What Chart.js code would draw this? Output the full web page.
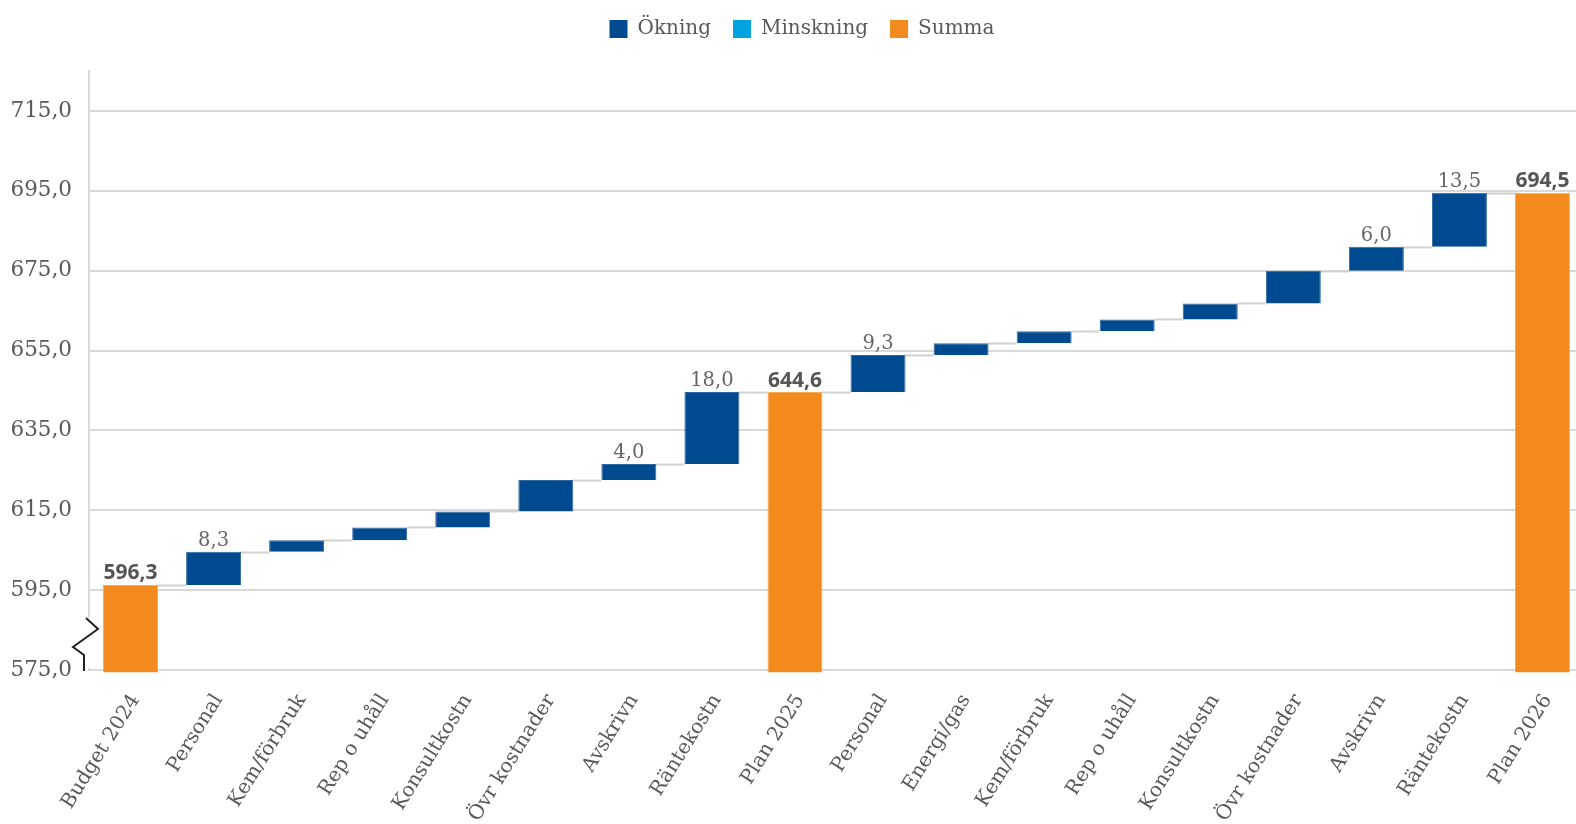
<!DOCTYPE html>
<html>
<head>
<meta charset="utf-8">
<script src="https://cdn.jsdelivr.net/npm/chart.js@4/dist/chart.umd.min.js"></script>
<style>
  html, body { margin: 0; padding: 0; background: #fff; overflow: hidden; }
  /* diagrammet är lite bredare än fönstret, sista stapeln når kanten */
  #wrap { width: 1584px; height: 824px; position: relative; }
</style>
</head>
<body>
<div id="wrap"><canvas id="chart"></canvas></div>
<script>
// Kategorier längs x-axeln
const categories = [
  'Budget 2024', 'Personal', 'Kem/förbruk', 'Rep o uhåll', 'Konsultkostn',
  'Övr kostnader', 'Avskrivn', 'Räntekostn', 'Plan 2025', 'Personal',
  'Energi/gas', 'Kem/förbruk', 'Rep o uhåll', 'Konsultkostn', 'Övr kostnader',
  'Avskrivn', 'Räntekostn', 'Plan 2026'
];
// Förändring per post (summor anges som totalvärde)
const values = [
  596.3, 8.3, 2.9, 3.2, 4.0, 7.9, 4.0, 18.0, 644.6, 9.3,
  2.9, 3.0, 3.0, 4.0, 8.2, 6.0, 13.5, 694.5
];
const isTotal = [
  true, false, false, false, false, false, false, false, true, false,
  false, false, false, false, false, false, false, true
];
// Vilka staplar som har etikett
const showLabel = [
  true, true, false, false, false, false, true, true, true, true,
  false, false, false, false, false, true, true, true
];
const yTicks = [575, 595, 615, 635, 655, 675, 695, 715];

const AXIS_MIN = 575;
const BLUE = '#004A8F';
const LIGHT = '#00A3E0';
const ORANGE = '#F28A1E';

// bygg flytande staplar
const increase = [], decrease = [], totals = [];
let running = 0;
values.forEach((v, i) => {
  if (isTotal[i]) {
    running = v;
    totals.push([AXIS_MIN - 0.6, v]);
    increase.push(null);
    decrease.push(null);
  } else if (v >= 0) {
    increase.push([running, running + v]);
    decrease.push(null);
    totals.push(null);
    running += v;
  } else {
    decrease.push([running + v, running]);
    increase.push(null);
    totals.push(null);
    running += v;
  }
});

const fmt = v => v.toFixed(1).replace('.', ',');
const serif = 'DejaVu Serif';

// legendens placering: extra luft under, lite förskjuten
const legendGap = {
  id: 'legendGap',
  beforeInit(chart) {
    const lg = chart.legend;
    const fit = lg.fit;
    lg.fit = function () {
      fit.bind(lg)();
      this.height += 19;
    };
    const draw = lg.draw;
    lg.draw = function () {
      const c = this.ctx;
      c.save();
      c.translate(10, -3);
      draw.apply(lg, arguments);
      c.restore();
    };
  }
};

const extras = {
  id: 'extras',
  beforeDatasetsDraw(chart) {
    // förbindelselinjer mellan staplarna
    const c = chart.ctx;
    const y = chart.scales.y;
    const metas = chart.data.datasets.map((d, i) => chart.getDatasetMeta(i));
    const barAt = i => {
      for (const m of metas) {
        const el = m.data[i];
        if (el && chart.data.datasets[m.index].data[i]) return el;
      }
      return null;
    };
    let level = 0;
    c.save();
    c.strokeStyle = '#d0d0d0';
    c.lineWidth = 2;
    for (let i = 0; i < values.length - 1; i++) {
      level = isTotal[i] ? values[i] : level + values[i];
      const a = barAt(i), b = barAt(i + 1);
      if (!a || !b) continue;
      const py = Math.round(y.getPixelForValue(level)) + 0.5;
      c.beginPath();
      c.moveTo(a.x + a.width / 2, py);
      c.lineTo(b.x - b.width / 2, py);
      c.stroke();
    }
    c.restore();
  },
  afterDatasetsDraw(chart) {
    const c = chart.ctx;
    const metas = chart.data.datasets.map((d, i) => chart.getDatasetMeta(i));
    c.save();
    c.textAlign = 'center';
    c.textBaseline = 'bottom';
    values.forEach((v, i) => {
      if (!showLabel[i]) return;
      let el = null;
      metas.forEach(m => { if (chart.data.datasets[m.index].data[i]) el = m.data[i]; });
      if (!el) return;
      const top = Math.min(el.y, el.base);
      if (isTotal[i]) {
        c.font = 'bold 21px "Open Sans"';
        c.fillStyle = '#555555';
      } else {
        c.font = '19.5px "' + serif + '"';
        c.fillStyle = '#666666';
      }
      c.fillText(fmt(v), el.x, top - 1);
    });

    // axelbrott längst ned till vänster
    const a = chart.chartArea;
    const x0 = a.left;
    const b = a.bottom;
    c.fillStyle = '#ffffff';
    c.fillRect(x0 - 3, b - 52, 7, 50);
    c.strokeStyle = '#222222';
    c.lineWidth = 2;
    c.beginPath();
    c.moveTo(x0 - 3, b - 52);
    c.lineTo(x0 + 9, b - 41);
    c.lineTo(x0 - 16, b - 23);
    c.lineTo(x0 - 5, b - 15);
    c.lineTo(x0 - 5, b + 1);
    c.stroke();
    c.restore();
  }
};

new Chart(document.getElementById('chart'), {
  type: 'bar',
  data: {
    labels: categories,
    datasets: [
      { label: 'Ökning', data: increase, backgroundColor: BLUE, borderColor: '#2f66a0', borderWidth: 1, grouped: false },
      { label: 'Minskning', data: decrease, backgroundColor: LIGHT, borderColor: LIGHT, borderWidth: 1, grouped: false },
      { label: 'Summa', data: totals, backgroundColor: ORANGE, borderColor: '#f6a855', borderWidth: 1, grouped: false, clip: false }
    ]
  },
  options: {
    responsive: true,
    maintainAspectRatio: false,
    animation: false,
    layout: { padding: 0 },
    barPercentage: 0.662,
    categoryPercentage: 1,
    plugins: {
      legend: {
        position: 'top',
        labels: {
          boxWidth: 18,
          boxHeight: 18,
          padding: 22,
          color: '#595959',
          font: { family: serif, size: 20 },
          generateLabels(chart) {
            return chart.data.datasets.map((d, i) => ({
              text: d.label,
              fillStyle: d.backgroundColor,
              strokeStyle: d.backgroundColor,
              lineWidth: 0,
              fontColor: '#595959',
              datasetIndex: i
            }));
          }
        }
      },
      tooltip: { enabled: false }
    },
    scales: {
      x: {
        grid: { display: false },
        border: { display: false },
        ticks: {
          color: '#595959',
          font: { family: serif, size: 20 },
          minRotation: 58,
          maxRotation: 58,
          autoSkip: false,
          labelOffset: 5,
          padding: 12
        },
        afterFit(s) {
          s.height = 154;
          s.paddingRight = 0;
          s.paddingLeft = 0;
        }
      },
      y: {
        min: AXIS_MIN,
        max: 725,
        afterBuildTicks(s) { s.ticks = yTicks.map(v => ({ value: v })); },
        grid: { color: '#d9d9d9', lineWidth: 2, drawTicks: false },
        border: { color: '#d9d9d9', width: 2 },
        ticks: {
          color: '#595959',
          padding: 17,
          font: { family: serif, size: 21.5 },
          callback: v => fmt(v)
        },
        afterFit(s) { s.width = 89; }
      }
    }
  },
  plugins: [legendGap, extras]
});
</script>
</body>
</html>
